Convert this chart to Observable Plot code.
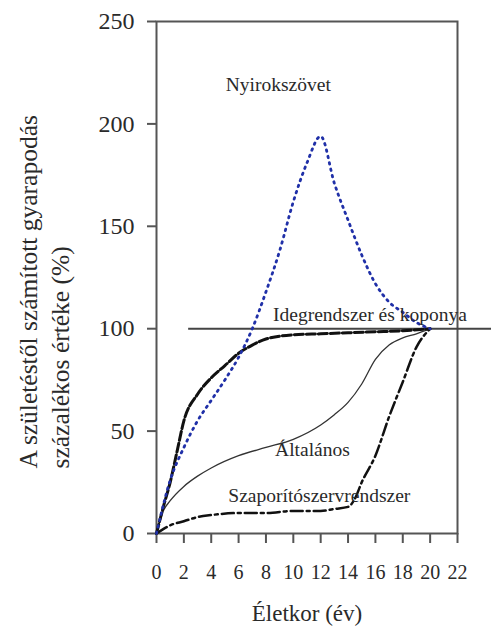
<!DOCTYPE html>
<html><head><meta charset="utf-8">
<script src="https://cdn.jsdelivr.net/npm/d3@7"></script>
<script src="https://cdn.jsdelivr.net/npm/@observablehq/plot@0.6"></script>
<style>body{margin:0;background:#fff} svg{display:block}</style>
</head><body><div id="chart"></div>
<script>
// Nyirokszövet (lymphoid)
const lymphAge = [0, 1, 2, 3, 4, 5, 6, 7, 8, 9, 10, 11, 12, 13, 14, 15, 16, 17, 18, 19, 20];
const lymphVal = [0, 26, 42, 55, 65, 75, 86, 100, 118, 138, 162, 181, 194, 171, 153, 136, 122, 113, 108, 103, 100];
// Idegrendszer és koponya (neural)
const neuralAge = [0, 0.5, 1, 1.5, 2, 3, 4, 5, 6, 7, 8, 10, 12, 14, 16, 18, 20];
const neuralVal = [0, 13, 25, 40, 55, 68, 76, 82, 88, 92, 95, 97, 97.5, 98, 98.5, 99, 100];
// Általános (general)
const generalAge = [0, 0.5, 1, 2, 3, 4, 6, 8, 10, 12, 13, 14, 15, 16, 17, 18, 19, 20];
const generalVal = [0, 11, 16, 23, 28, 32, 38, 42, 46, 53, 58, 64, 73, 85, 92, 95.5, 97.5, 100];
// Szaporítószervrendszer (reproductive)
const reproAge = [0, 1, 2, 3, 4, 6, 8, 10, 12, 13, 14, 14.5, 15, 16, 17, 18, 19, 20];
const reproVal = [0, 4, 6, 8, 9, 10, 10, 11, 11, 12, 13, 17, 25, 38, 57, 74, 91, 100];

const seriesNames = ["Nyirokszövet", "Idegrendszer és koponya", "Általános", "Szaporítószervrendszer"];
const labelX = [8.9, 15.6, 11.4, 11.9];
const labelY = [219, 107, 41, 18.6];

const refValue = 100;
const refStart = 2.35;
const refEnd = 24.5;

const xTicks = [0, 2, 4, 6, 8, 10, 12, 14, 16, 18, 20, 22];
const yTicks = [0, 50, 100, 150, 200, 250];
const xTitle = "Életkor (év)";
const yTitle1 = "A születéstől számított gyarapodás";
const yTitle2 = "százalékos értéke (%)";

const toRows = (ages, vals) => ages.map((a, i) => ({age: a, value: vals[i]}));
const lymph = toRows(lymphAge, lymphVal);
const neural = toRows(neuralAge, neuralVal);
const general = toRows(generalAge, generalVal);
const repro = toRows(reproAge, reproVal);
const labels = seriesNames.map((n, i) => ({name: n, x: labelX[i], y: labelY[i]}));

const font = "Liberation Serif";
const ink = "#2a2a2a";

const chart = Plot.plot({
  width: 491,
  height: 628,
  marginLeft: 156,
  marginRight: 34,
  marginTop: 21,
  marginBottom: 95,
  style: {color: ink, background: "#fff", fontFamily: font},
  x: {domain: [0, 22]},
  y: {domain: [0, 250]},
  marks: [
    Plot.frame({stroke: "#555", strokeWidth: 2}),
    Plot.axisX({ticks: xTicks, tickSize: 10, tickPadding: 21, fontSize: 20, fontFamily: font, label: null, strokeWidth: 2, stroke: "#555", fill: ink}),
    Plot.axisY({ticks: yTicks, tickSize: 9, tickPadding: 13, fontSize: 24, fontFamily: font, label: null, strokeWidth: 2, stroke: "#555", fill: ink}),
    Plot.ruleY([refValue], {x1: refStart, x2: refEnd, stroke: "#444", strokeWidth: 2}),
    Plot.line(general, {x: "age", y: "value", stroke: "#333", strokeWidth: 1.3, curve: "monotone-x"}),
    Plot.line(repro, {x: "age", y: "value", stroke: "#111", strokeWidth: 2.5, strokeDasharray: "12,4,3,4", curve: "monotone-x"}),
    Plot.line(neural, {x: "age", y: "value", stroke: "#111", strokeWidth: 3, strokeDasharray: "9,3", curve: "monotone-x"}),
    Plot.line(lymph, {x: "age", y: "value", stroke: "#2030a8", strokeWidth: 2.8, strokeDasharray: "1.5,5", strokeLinecap: "round", curve: "monotone-x"}),
    Plot.text(labels, {x: "x", y: "y", text: "name", fontSize: 19.5, fontFamily: font, fill: ink}),
    Plot.text([xTitle], {text: d => d, frameAnchor: "bottom", dy: 87, fontSize: 23, fontFamily: font, fill: ink}),
    Plot.text([yTitle1], {text: d => d, frameAnchor: "left", rotate: -90, textAnchor: "start", dx: -128, dy: 191, fontSize: 25.5, fontFamily: font, fill: ink}),
    Plot.text([yTitle2], {text: d => d, frameAnchor: "left", rotate: -90, textAnchor: "start", dx: -96, dy: 191, fontSize: 25.5, fontFamily: font, fill: ink})
  ]
});
chart.setAttribute("font-family", font);
chart.querySelectorAll("g, text").forEach(el => el.setAttribute("font-family", font));
document.getElementById("chart").appendChild(chart);
</script>
</body></html>
